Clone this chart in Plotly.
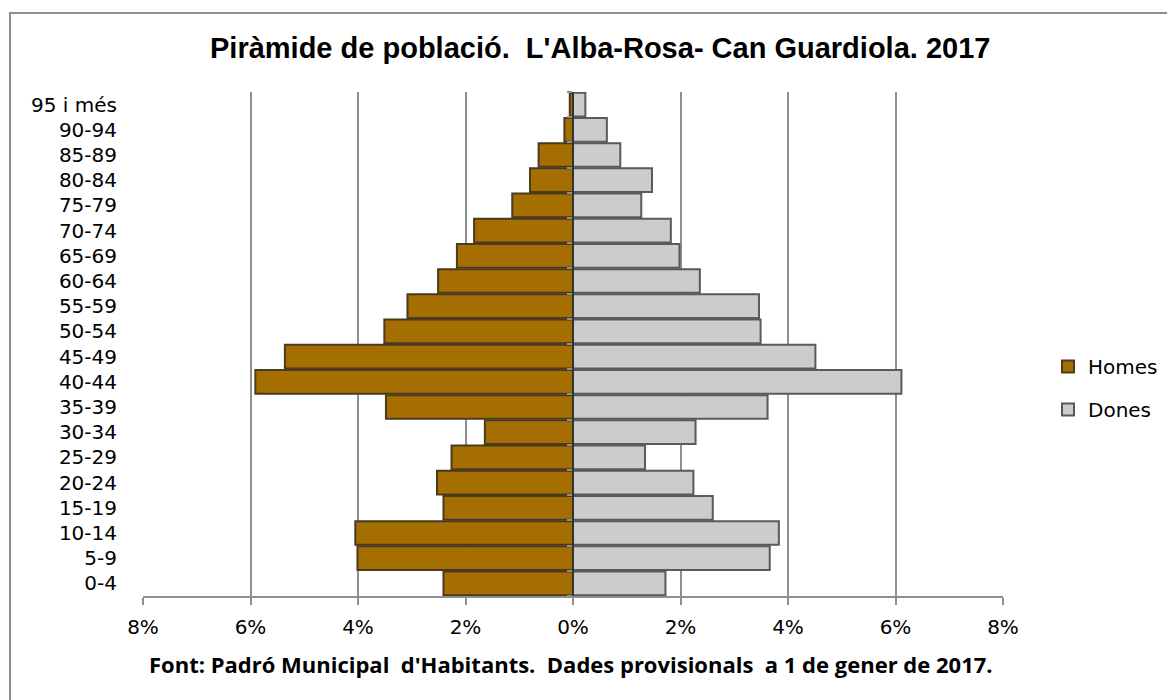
import plotly.graph_objects as go

age_groups = ["0-4", "5-9", "10-14", "15-19", "20-24", "25-29", "30-34", "35-39",
              "40-44", "45-49", "50-54", "55-59", "60-64", "65-69", "70-74",
              "75-79", "80-84", "85-89", "90-94", "95 i més"]
homes = [2.41, 4.01, 4.05, 2.41, 2.53, 2.26, 1.64, 3.48, 5.91, 5.36, 3.51,
         3.08, 2.51, 2.16, 1.84, 1.13, 0.80, 0.64, 0.16, 0.06]
dones = [1.72, 3.66, 3.83, 2.60, 2.24, 1.34, 2.28, 3.62, 6.11, 4.51, 3.49,
         3.46, 2.36, 1.98, 1.82, 1.27, 1.47, 0.88, 0.63, 0.23]
tick_vals = [-8, -6, -4, -2, 0, 2, 4, 6, 8]
tick_text = ["8%", "6%", "4%", "2%", "0%", "2%", "4%", "6%", "8%"]

FONT = "DejaVu Sans"

fig = go.Figure()
fig.add_trace(go.Bar(
    y=age_groups, x=[-v for v in homes], orientation="h", name="Homes",
    marker=dict(color="#A46F00", line=dict(color="#4A3A1E", width=2)),
    legendgroup="h", yaxis="y",
))
fig.add_trace(go.Bar(
    y=age_groups, x=dones, orientation="h", name="Dones",
    marker=dict(color="#CCCCCC", line=dict(color="#5A5A5A", width=2)),
    legendgroup="d", yaxis="y2",
))

W, H = 1167, 692  # page body has an 8px margin
fig.update_layout(
    width=W, height=H,
    margin=dict(l=135, r=172, t=84, b=104),
    paper_bgcolor="white", plot_bgcolor="white",
    bargap=0.06,
    font=dict(family=FONT, size=20, color="black"),
    xaxis=dict(range=[-8, 8], tickvals=tick_vals, ticktext=tick_text,
               showgrid=True, gridcolor="#8F8F8F", gridwidth=2,
               zeroline=False, showline=True, linecolor="#8F8F8F", linewidth=2,
               ticks="outside", ticklen=7, tickwidth=2, tickcolor="#8F8F8F",
               ticklabelstandoff=5, tickfont=dict(size=20)),
    yaxis=dict(categoryorder="array", categoryarray=age_groups,
               showgrid=False, showline=False, ticks="",
               ticklabelstandoff=25, tickfont=dict(size=20)),
    yaxis2=dict(categoryorder="array", categoryarray=age_groups,
                overlaying="y", anchor="free", position=0.5, side="left",
                showgrid=False, showticklabels=False, showline=True,
                linecolor="#333333", linewidth=2, ticks="outside",
                tickson="boundaries", ticklen=5, tickcolor="#8F8F8F", tickwidth=2),
    legend=dict(xref="container", yref="container",
                x=1040 / W, y=(H - 380) / H, xanchor="left", yanchor="middle",
                traceorder="grouped", tracegroupgap=14,
                font=dict(size=20), itemwidth=30),
    showlegend=True,
)

fig.add_annotation(text="<b>Piràmide de població.  L'Alba-Rosa- Can Guardiola. 2017</b>",
                   xref="paper", yref="paper", x=0.531, y=1.087,
                   showarrow=False, xanchor="center", yanchor="middle",
                   font=dict(family="Liberation Sans", size=29, color="black"))
fig.add_annotation(text="<b>Font: Padró Municipal  d'Habitants.  Dades provisionals  a 1 de gener de 2017.</b>",
                   xref="paper", yref="paper", x=0.498, y=-0.135,
                   showarrow=False, xanchor="center", yanchor="middle",
                   font=dict(family="Open Sans", size=22, color="black"))

# chart-area border
fig.add_shape(type="rect", xref="paper", yref="paper",
              x0=-133/860, x1=1.3, y0=-0.3, y1=(596-13)/504,
              line=dict(color="#8F8F8F", width=2), fillcolor="rgba(0,0,0,0)",
              layer="below")

fig.write_html("out.html")
